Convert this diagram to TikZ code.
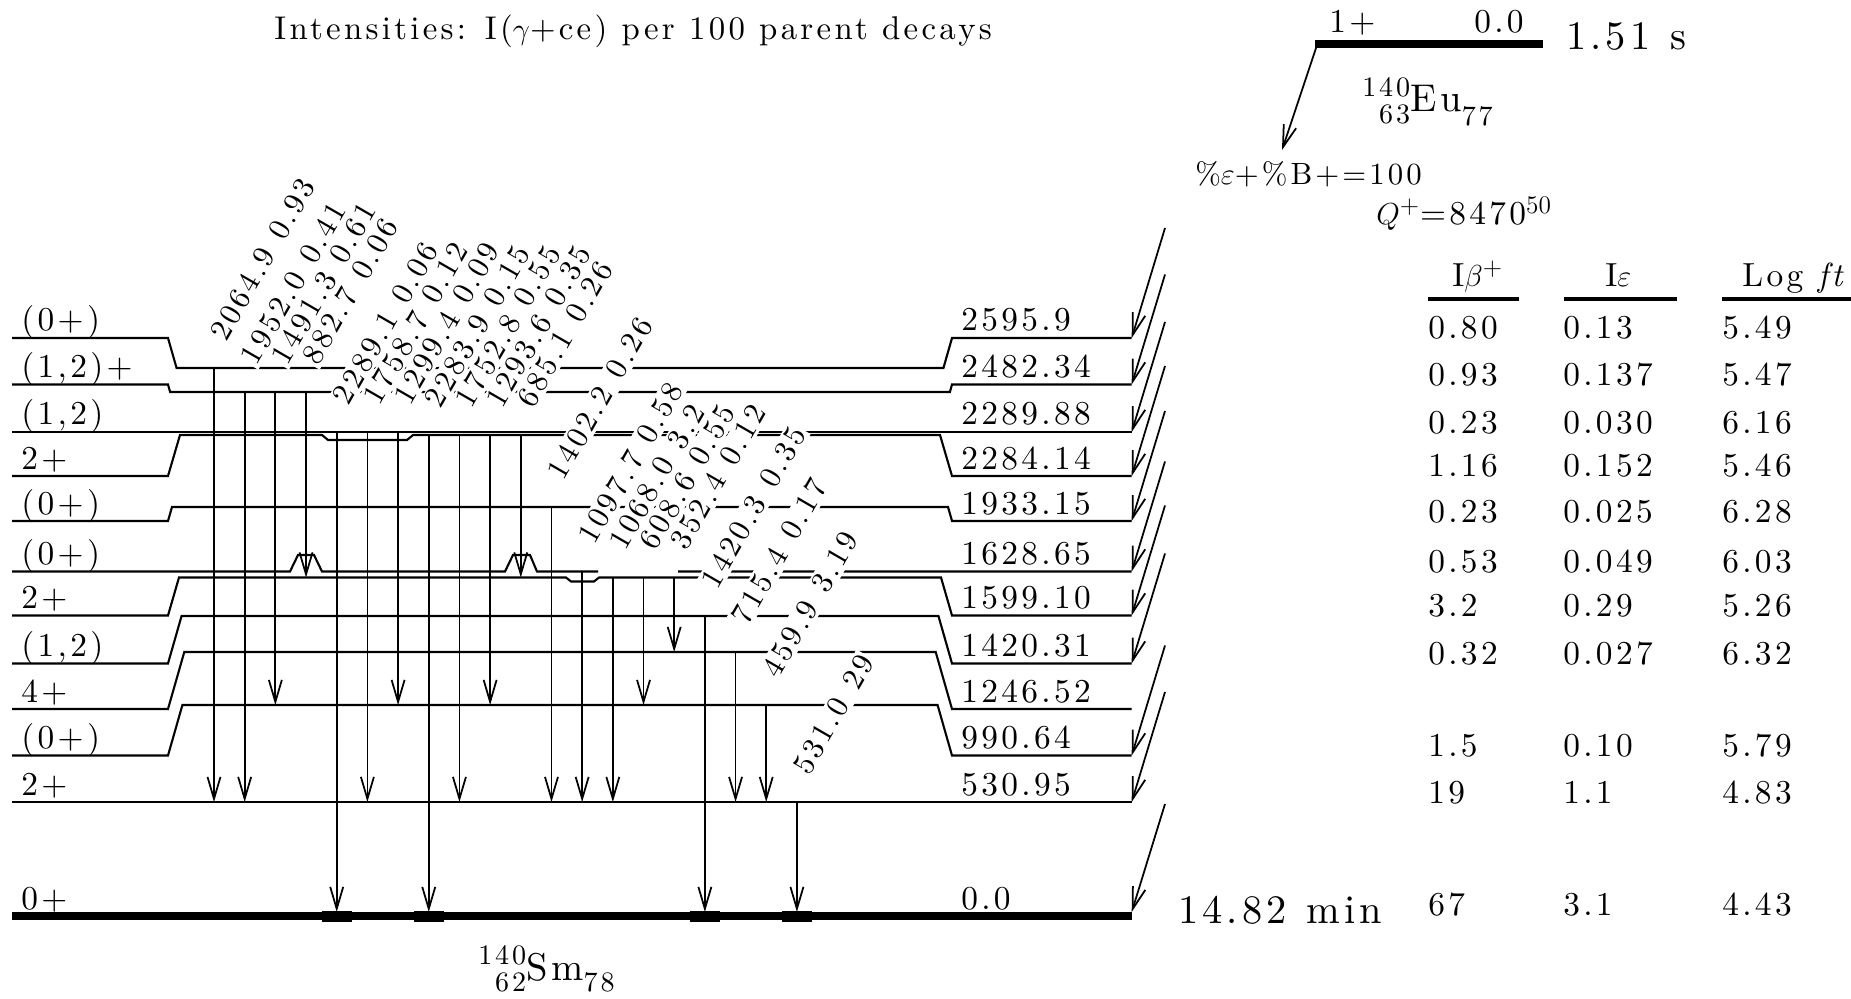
\documentclass[tikz,border=0pt]{standalone}
\usepackage{fontspec}
\setmainfont{lmroman10-regular.otf}[LetterSpace=10,ItalicFont=lmroman10-italic.otf]
\usetikzlibrary{arrows.meta}

\def\gammalist{2064.9/0.93/368/802, 1952.0/0.41/392/802, 1491.3/0.61/392/705, 882.7/0.06/392/577.5,
  2289.1/0.06/432/912, 1758.7/0.12/432/802, 1299.4/0.09/432/705, 2283.9/0.15/435/912,
  1752.8/0.55/435/802, 1293.6/0.35/435/705, 685.1/0.26/435/577.5, 1402.2/0.26/507/802,
  1097.7/0.58/571.5/802, 1068.0/3.2/577.5/802, 608.6/0.55/577.5/705, 352.4/0.12/577.5/652,
  1420.3/0.35/616/912, 715.4/0.17/652/802, 459.9/3.19/705/802, 531.0/29/802/912}

\begin{document}
\begin{tikzpicture}[x=0.2mm,y=-0.2mm,>={Straight Barb[length=4.4mm,width=2.6mm]}]
  \tikzset{lvl/.style={line width=1.2pt},
           gam/.style={->,line width=1pt},
           txt/.style={font=\fontsize{19}{22}\selectfont,inner sep=0pt,anchor=base west},
           bigtxt/.style={font=\fontsize{23}{27}\selectfont,inner sep=0pt,anchor=base west},
           glbl/.style={font=\fontsize{17.5}{20}\selectfont,anchor=base west,rotate=60,fill=white,inner sep=1.2pt}}
  \useasboundingbox (0,0) rectangle (1851,999);
  \node[txt,font=\fontsize{18.7}{22}\selectfont] (title) at (274,40) {Intensities: I($\gamma$+ce) per 100 parent decays};
  \foreach \s/\m in {338/368,384.5/392,521/507,663.5/616,709/652,755.5/705}{
    \pgfmathsetmacro\jx{abs(\s-\m)/3.5}
    \draw[lvl] (12,\s) -- (168,\s) -- (168+\jx,\m) -- (952-\jx,\m) -- (952,\s) -- (1131.7,\s);}
  \draw[lvl] (12,432) -- (1131.7,432);
  \draw[lvl] (12,476) -- (168,476) -- (180,435) -- (322,435) -- (328,440) -- (407,440) -- (413,435) -- (940,435) -- (952,476) -- (1131.7,476);
  \draw[lvl] (12,571.5) -- (290,571.5) -- (298,555) -- (314,555) -- (322,571.5) -- (505,571.5) -- (513,555) -- (530,555) -- (537,571.5) -- (598,571.5)
             (678,571.5) -- (1131.7,571.5);
  \draw[lvl] (12,615.5) -- (168,615.5) -- (179,577.5) -- (566,577.5) -- (571,581.5) -- (594,581.5) -- (599,577.5) -- (941,577.5) -- (952,615.5) -- (1131.7,615.5);
  \draw[lvl] (12,802) -- (1131.7,802);
  \draw[line width=4.9pt] (12,916) -- (1131.7,916);
  \foreach \x in {337,429,705,797} \fill (\x-15,911) rectangle (\x+15,922);
  \foreach \s in {338,384.5,432,476,521,571.5,615.5,663.5,755.5,802}
    \draw[gam] (1165,\s-110) -- (1131.7,\s);
  \draw[gam] (1165,804) -- (1131.7,912);
  \foreach \e/\i/\a/\b [count=\k from 0] in \gammalist{
    \pgfmathsetmacro\gx{214+30.68*\k}
    \draw[gam] (\gx,\a) -- (\gx,\b);}
  \foreach \e/\i/\a/\b [count=\k from 0] in \gammalist{
    \pgfmathsetmacro\gx{214+30.68*\k}
    \node[glbl] (g\k) at (\gx+11,\a-23.4) {\e\enspace\i};}
  \foreach \sp/\en/\s [count=\k] in {(0+)/2595.9/338, (1{,}2)+/2482.34/384.5, (1{,}2)/2289.88/432, 2+/2284.14/476,
      (0+)/1933.15/521, (0+)/1628.65/571.5, 2+/1599.10/615.5, (1{,}2)/1420.31/663.5, 4+/1246.52/709,
      (0+)/990.64/755.5, 2+/530.95/802, 0+/0.0/916}{
    \node[txt] (sp\k) at (21,\s-7) {\sp};
    \node[txt] (en\k) at (961,\s-7) {\en};}
  \foreach \p/\q/\r/\s [count=\k] in {0.80/0.13/5.49/338, 0.93/0.137/5.47/384.5, 0.23/0.030/6.16/432,
      1.16/0.152/5.46/476, 0.23/0.025/6.28/521, 0.53/0.049/6.03/571.5, 3.2/0.29/5.26/615.5,
      0.32/0.027/6.32/663.5, 1.5/0.10/5.79/755.5, 19/1.1/4.83/802, 67/3.1/4.43/914}{
    \node[txt] (ib\k) at (1428,\s+1) {\p};
    \node[txt] (ie\k) at (1563,\s+1) {\q};
    \node[txt] (ft\k) at (1722,\s+1) {\r};}
  \node[txt] (hb) at (1452,287) {I$\beta^{+}$};
  \node[txt] (he) at (1605,287) {I$\varepsilon$};
  \node[txt] (hf) at (1742,287) {Log \textit{ft}};
  \draw[line width=2.8pt] (1428,299) -- (1519,299);
  \draw[line width=1.8pt] (1564,299) -- (1677,299) (1722,299) -- (1851,299);
  \draw[line width=4.7pt] (1315,44) -- (1542.5,44);
  \draw[gam] (1316,48) -- (1282,150);
  \node[txt] (pspin) at (1329,33) {1+};
  \node[txt] (pen) at (1474,33) {0.0};
  \node[bigtxt] (phl) at (1566,50) {1.51\enspace s};
  \node[anchor=base west,inner sep=0pt] (eu) at (1362,112) {\fontsize{16}{16}\selectfont
    \begin{tabular}{@{}r@{}}140\\[-1pt]63\end{tabular}\fontsize{22}{24}\selectfont Eu\fontsize{16}{16}\selectfont\raisebox{-7.5pt}{77}};
  \node[txt,font=\fontsize{17.5}{22}\selectfont] (mode) at (1195,185) {\%$\varepsilon$+\%B+=100};
  \node[txt] (qval) at (1376,225) {$Q^{+}$=8470$^{50}$};
  \node[bigtxt] (gshl) at (1178,923) {14.82\enspace min};
  \node[anchor=base west,inner sep=0pt] (sm) at (478,980) {\fontsize{16}{16}\selectfont
    \begin{tabular}{@{}r@{}}140\\[-1pt]62\end{tabular}\fontsize{22}{24}\selectfont Sm\fontsize{16}{16}\selectfont\raisebox{-6.5pt}{78}};
\end{tikzpicture}
\end{document}
